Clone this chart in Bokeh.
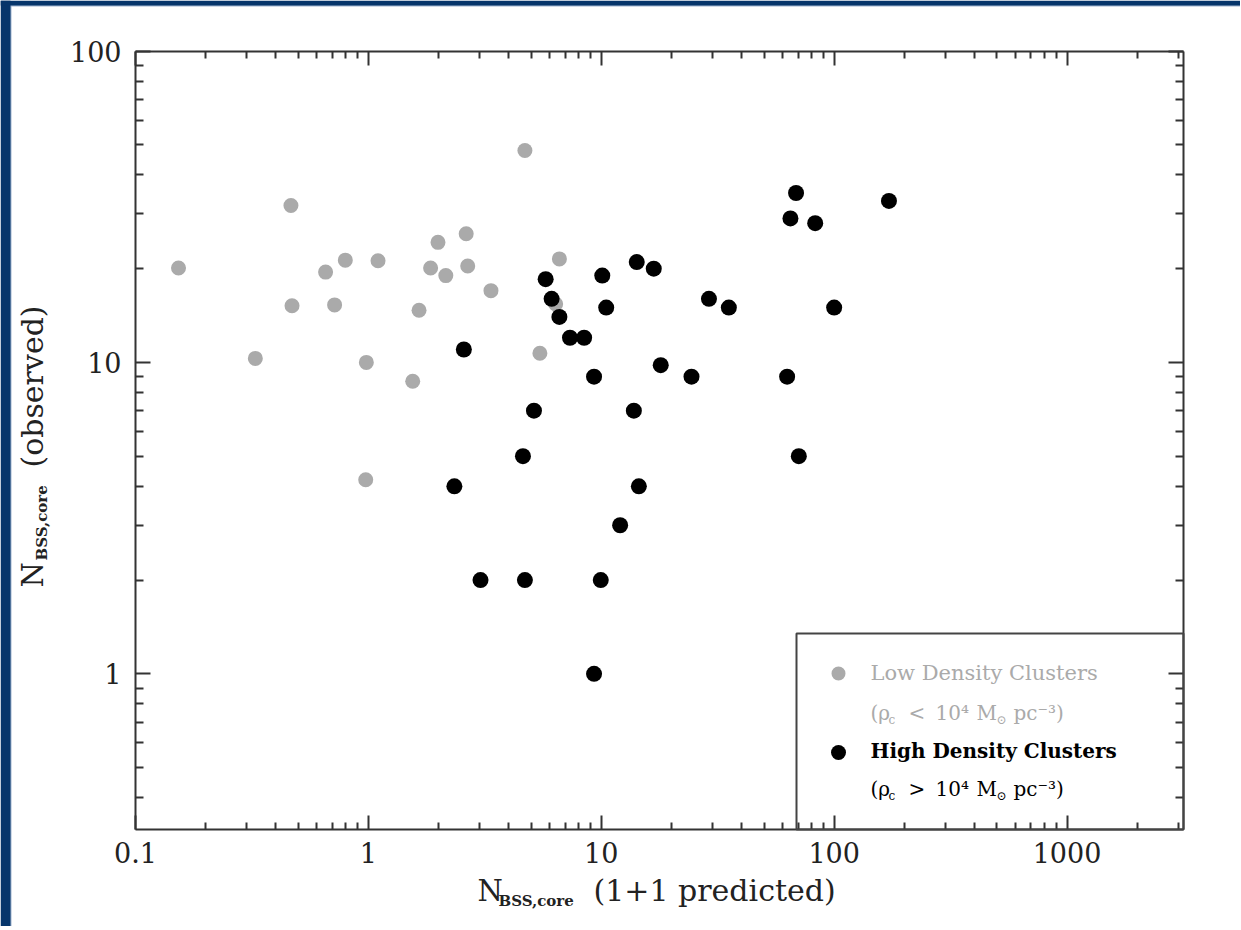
import math
from bokeh.plotting import figure
from bokeh.models import LogAxis, Label, Range1d, FixedTicker, BoxAnnotation
from bokeh.embed import file_html
from bokeh.resources import INLINE

# ---------------- data ----------------
low_x = [0.153, 0.465, 0.327, 0.47, 0.655, 0.796, 0.716, 1.10, 0.98, 0.974, 1.99,
         2.63, 1.85, 2.15, 2.67, 3.36, 1.65, 1.55, 4.70, 6.61, 5.45, 6.37]
low_y = [20.1, 31.9, 10.3, 15.2, 19.5, 21.3, 15.3, 21.2, 10.0, 4.2, 24.3,
         25.9, 20.1, 19.0, 20.4, 17.0, 14.7, 8.7, 47.9, 21.5, 10.7, 15.4]

high_x = [68.6, 171.9, 64.9, 82.9, 14.2, 16.8, 5.77, 10.1, 6.12, 10.5, 29.0,
          35.3, 100, 6.61, 7.34, 8.44, 18.0, 9.31, 24.4, 62.8, 5.14, 13.8,
          4.61, 70.5, 14.5, 12.05, 2.57, 2.34, 3.03, 4.70, 9.95, 9.31]
high_y = [35, 33, 29, 28, 21, 20, 18.5, 19, 16, 15, 16,
          15, 15, 14, 12, 12, 9.8, 9, 9, 9, 7, 7,
          5, 5, 4, 3, 11, 4, 2, 2, 2, 1]

x_ticks = [0.1, 1, 10, 100, 1000]
x_tick_labels = ["0.1", "1", "10", "100", "1000"]
y_ticks = [1, 10, 100]
y_tick_labels = ["1", "10", "100"]

low_label = "Low Density Clusters"
high_label = "High Density Clusters"

# ---------------- layout ----------------
W, H = 1240, 926
BOX_L, BOX_R, BOX_T, BOX_B = 135.0, 1183.0, 50.5, 829.0
XMIN, XMAX = 0.1, 10 ** 3.5
YMIN, YMAX = 10 ** -0.5, 100.0
PPDX = (BOX_R - BOX_L) / (math.log10(XMAX) - math.log10(XMIN))
PPDY = (BOX_B - BOX_T) / (math.log10(YMAX) - math.log10(YMIN))


def dx(px):
    return 10 ** (math.log10(XMIN) + (px - BOX_L) / PPDX)


def dy(py):
    return 10 ** (math.log10(YMAX) - (py - BOX_T) / PPDY)


FONT = "DejaVu Serif"
AXC = "#333333"
GRAY = "#aaaaaa"
BLUE = "#06356b"
LIGHTBLUE = "#9fb4cf"

p = figure(width=W, height=H, x_axis_type="log", y_axis_type="log",
           x_range=Range1d(dx(0), dx(W)), y_range=Range1d(dy(H), dy(0)),
           output_backend="svg", toolbar_location=None,
           min_border=0, min_border_left=0, min_border_right=0,
           min_border_top=0, min_border_bottom=0)
p.xgrid.visible = False
p.ygrid.visible = False
p.outline_line_color = None
p.background_fill_color = "white"
p.border_fill_color = "white"


def minor(decs, lo, hi):
    return [m * 10.0 ** e for e in decs for m in range(2, 10)
            if lo <= m * 10.0 ** e <= hi]


def xt():
    return FixedTicker(ticks=x_ticks, minor_ticks=minor(range(-1, 4), XMIN, XMAX))


def yt():
    return FixedTicker(ticks=y_ticks, minor_ticks=minor(range(-1, 2), YMIN, YMAX))


def style(ax, maj, mnr):
    ax.axis_line_color = AXC
    ax.axis_line_width = 2
    ax.major_tick_line_color = AXC
    ax.major_tick_line_width = 2
    ax.minor_tick_line_color = AXC
    ax.minor_tick_line_width = 2
    ax.major_tick_in = maj
    ax.major_tick_out = 0
    ax.minor_tick_in = mnr
    ax.minor_tick_out = 0
    ax.major_label_text_font = FONT
    ax.major_label_text_font_size = "27px"
    ax.major_label_text_color = "#222222"


xa = p.xaxis[0]
xa.ticker = xt()
xa.bounds = (XMIN, XMAX)
xa.fixed_location = YMIN
xa.major_label_overrides = dict(zip(x_ticks, x_tick_labels))
style(xa, 14, 7)
xa.major_label_standoff = 12

ya = p.yaxis[0]
ya.ticker = yt()
ya.bounds = (YMIN, YMAX)
ya.fixed_location = XMIN
ya.major_label_overrides = dict(zip(y_ticks, y_tick_labels))
style(ya, 15, 8)
ya.major_label_standoff = 14

top = LogAxis(ticker=xt(), bounds=(XMIN, XMAX), fixed_location=YMAX)
style(top, 14, 7)
top.major_label_overrides = {t: "" for t in x_ticks}
top.major_label_text_font_size = "0px"
top.major_label_standoff = 0
p.add_layout(top, "above")

right = LogAxis(ticker=yt(), bounds=(YMIN, YMAX), fixed_location=XMAX)
style(right, 15, 8)
right.major_label_overrides = {t: "" for t in y_ticks}
right.major_label_text_font_size = "0px"
right.major_label_standoff = 0
p.add_layout(right, "right")

# ---------------- page frame (blue edge) ----------------
p.add_layout(BoxAnnotation(left=dx(9), right=dx(11), bottom=dy(H), top=dy(4),
                           fill_color=LIGHTBLUE, fill_alpha=1,
                           line_color=None, level="underlay"))
p.add_layout(BoxAnnotation(bottom=dy(6), top=dy(4), left=dx(9),
                           fill_color=LIGHTBLUE, fill_alpha=1,
                           line_color=None, level="underlay"))
p.add_layout(BoxAnnotation(right=dx(10), fill_color=BLUE, fill_alpha=1,
                           line_color=None, level="underlay"))
p.add_layout(BoxAnnotation(bottom=dy(5), fill_color=BLUE, fill_alpha=1,
                           line_color=None, level="underlay"))

# ---------------- data marks ----------------
p.scatter(low_x, low_y, size=15, color=GRAY, line_color=None)
p.scatter(high_x, high_y, size=16, color="black", line_color=None)


def lab(text, px, py, size, color="#222222", bold=False, angle=0.0):
    # py / px given as the visual baseline in page pixels; compensate the
    # renderer's baseline offset (~0.34 em)
    s = float(size.replace("px", ""))
    off = 0.34 * s
    if angle == 0.0:
        py = py - off
    else:
        px = px - off
    p.add_layout(Label(x=dx(px), y=dy(py), text=text,
                       text_font=FONT, text_font_size=size, text_color=color,
                       text_font_style="bold" if bold else "normal",
                       text_align="left", text_baseline="alphabetic",
                       angle=angle))


# axis titles (page pixel anchors)
lab("N", 477, 900, "29px")
lab("BSS,core", 498, 906, "15px", bold=True)
lab("(1+1 predicted)", 593, 900, "30px")

lab("N", 42, 587, "29px", angle=math.pi / 2)
lab("BSS,core", 47, 560, "15px", bold=True, angle=math.pi / 2)
lab("(observed)", 42, 467, "30px", angle=math.pi / 2)

# legend box
p.add_layout(BoxAnnotation(left=dx(796), top=dy(633), right=XMAX, bottom=YMIN,
                           fill_color=None, line_color="#444444", line_alpha=1,
                           line_width=2))

# legend markers
p.scatter([dx(838)], [dy(673)], size=14, color=GRAY, line_color=None)
p.scatter([dx(838)], [dy(752)], size=15, color="black", line_color=None)

# legend texts
lab(low_label, 870, 680, "21px", color=GRAY)
lab(high_label, 870, 757, "20px", color="black", bold=True)


def rho_line(base, sym, color):
    sub = base + 5
    lab("(ρ", 870, base, "20px", color=color)
    lab("c", 888, sub, "12px", color=color)
    lab(sym, 908, base, "20px", color=color)
    lab("10⁴", 935, base, "20px", color=color)
    lab("M", 976, base, "20px", color=color)
    lab("⊙", 996, sub, "12px", color=color)
    lab("pc⁻³)", 1013, base, "20px", color=color)


rho_line(719, "<", GRAY)
rho_line(795, ">", "black")

open("out.html", "w").write(file_html(p, INLINE))
